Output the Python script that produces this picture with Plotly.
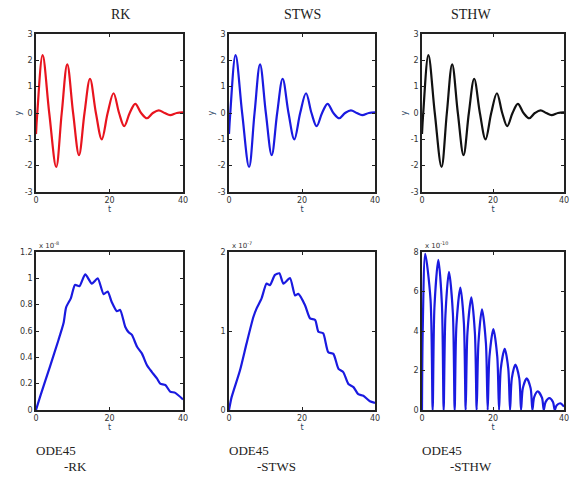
import plotly.graph_objects as go

# ---------------- data ----------------
titles = ["RK", "STWS", "STHW"]
bottom_labels = ["-RK", "-STWS", "-STHW"]
exponents = ["x 10<sup>-8</sup>", "x 10<sup>-7</sup>", "x 10<sup>-10</sup>"]

# top row: solution y(t) (same for all three methods)
t_sol = [0, 0.35, 1.8, 3.6, 5.5, 7.0, 8.5, 10.1, 11.7, 13.2, 14.7, 16.3, 17.9,
         19.5, 21.1, 22.6, 24.0, 25.5, 27.0, 28.6, 30.2, 31.8, 33.4, 35.0,
         36.5, 38.3, 40]
y_sol = [-0.8, 0.0, 2.2, 0.0, -2.05, 0.0, 1.85, 0.0, -1.6, 0.0, 1.3, 0.0, -1.0,
         0.0, 0.75, 0.0, -0.5, 0.0, 0.35, 0.0, -0.2, 0.0, 0.1, 0.0,
         -0.08, 0.0, 0.02]

# bottom row: errors ODE45 - method
t_err_rk = [0, 1.1, 3.8, 6.1, 7.5, 8.2, 9.5, 10.6, 11.8, 13.4, 15.2, 16.8, 18.4,
            19.5, 20.6, 22.0, 22.9, 24.3, 25.2, 26.1, 27.5, 28.8, 30.2, 31.5,
            32.9, 33.8, 35.2, 36.5, 37.9, 40]
err_rk = [0, 0.1, 0.33, 0.53, 0.66, 0.78, 0.85, 0.95, 0.94, 1.03, 0.96, 1.0, 0.88,
          0.9, 0.82, 0.75, 0.76, 0.63, 0.59, 0.57, 0.48, 0.43, 0.34, 0.29,
          0.24, 0.2, 0.19, 0.14, 0.13, 0.08]

t_err_stws = [0, 0.7, 3.0, 4.8, 6.7, 7.6, 8.9, 10.3, 11.2, 12.6, 13.8, 14.9, 16.7,
              18.1, 19.0, 20.8, 22.2, 23.6, 24.5, 25.8, 27.2, 28.6, 30.0, 31.3,
              32.7, 34.1, 35.4, 36.8, 38.6, 40]
err_stws = [0, 0.16, 0.5, 0.84, 1.18, 1.29, 1.41, 1.6, 1.58, 1.71, 1.73, 1.6, 1.67,
            1.45, 1.47, 1.33, 1.16, 1.14, 0.99, 0.97, 0.73, 0.71, 0.52, 0.48,
            0.33, 0.29, 0.2, 0.18, 0.11, 0.09]

t_err_sthw = [0, 0.2, 0.9, 2.4, 3.0, 3.5, 4.6, 5.6, 6.1, 6.6, 7.6, 8.7, 9.2, 9.7,
              10.8, 11.8, 12.3, 12.8, 13.9, 14.9, 15.4, 15.9, 16.9, 18.0, 18.5,
              19.0, 20.1, 21.2, 21.7, 22.2, 23.3, 24.3, 24.8, 25.3, 26.3, 27.4,
              27.9, 28.4, 29.5, 30.6, 31.1, 31.6, 32.6, 33.8, 34.3, 34.8, 35.9,
              36.9, 37.4, 37.9, 39.0, 40]
err_sthw = [0, 4.0, 7.9, 5.6, 0.0, 5.2, 7.6, 5.4, 0.0, 4.8, 7.0, 4.9, 0.0, 4.3,
            6.2, 4.4, 0.0, 3.9, 5.7, 3.9, 0.0, 3.4, 5.1, 3.4, 0.0, 2.7,
            4.1, 2.7, 0.0, 2.1, 3.1, 2.1, 0.0, 1.6, 2.3, 1.6, 0.0, 1.1, 1.6, 1.1,
            0.0, 0.65, 0.94, 0.62, 0.0, 0.4, 0.6, 0.4, 0.0, 0.23, 0.34, 0.17]

sol_colors = ["#e8141e", "#1a1ae0", "#111111"]
err_color = "#1a1ae0"

# ---------------- figure ----------------
W, H = 570, 479
xd = [(36 / W, 183 / W), (229 / W, 375 / W), (422 / W, 564 / W)]
yd_top = (1 - 192 / H, 1 - 34 / H)
yd_bot = (1 - 410 / H, 1 - 252 / H)

fig = go.Figure()
tick_font = dict(family="DejaVu Sans", size=8, color="#333333")
serif = "Liberation Serif"

def ax_common():
    return dict(showline=True, linecolor="#222222", linewidth=1.5, mirror="allticks",
                ticks="inside", ticklen=3, tickcolor="#222222", showgrid=False,
                zeroline=False, tickfont=tick_font, automargin=False)

err_t = [t_err_rk, t_err_stws, t_err_sthw]
err_v = [err_rk, err_stws, err_sthw]
err_ranges = [[0, 1.2], [0, 2], [0, 8]]
err_ticks = [[0, 0.2, 0.4, 0.6, 0.8, 1, 1.2], [0, 1, 2], [0, 2, 4, 6, 8]]

for i in range(3):
    n_top = i + 1
    n_bot = i + 4
    xa_t = "x" if n_top == 1 else f"x{n_top}"
    ya_t = "y" if n_top == 1 else f"y{n_top}"
    xa_b, ya_b = f"x{n_bot}", f"y{n_bot}"

    fig.add_trace(go.Scatter(x=t_sol, y=y_sol, mode="lines",
                             line=dict(color=sol_colors[i], width=2.2, shape="spline", smoothing=1.0),
                             xaxis=xa_t, yaxis=ya_t, showlegend=False))
    fig.add_trace(go.Scatter(x=err_t[i], y=err_v[i], mode="lines",
                             line=dict(color=err_color, width=2.2, shape="spline",
                                       smoothing=0.6 if i < 2 else 0.8),
                             xaxis=xa_b, yaxis=ya_b, showlegend=False))

    xkey_t = "xaxis" if n_top == 1 else f"xaxis{n_top}"
    ykey_t = "yaxis" if n_top == 1 else f"yaxis{n_top}"
    fig.update_layout({
        xkey_t: dict(domain=list(xd[i]), range=[0, 40], tickvals=[0, 20, 40],
                     anchor=ya_t, title=dict(text="t", font=dict(size=8, family="DejaVu Sans"), standoff=2),
                     **ax_common()),
        ykey_t: dict(domain=list(yd_top), range=[-3, 3], tickvals=[-3, -2, -1, 0, 1, 2, 3],
                     ticktext=["-3", "-2", "-1", "0", "1", "2", "3"],
                     anchor=xa_t, title=dict(text="y", font=dict(size=8, family="DejaVu Sans"), standoff=2),
                     **ax_common()),
        f"xaxis{n_bot}": dict(domain=list(xd[i]), range=[0, 40], tickvals=[0, 20, 40],
                              anchor=ya_b, title=dict(text="t", font=dict(size=8, family="DejaVu Sans"), standoff=2),
                              **ax_common()),
        f"yaxis{n_bot}": dict(domain=list(yd_bot), range=err_ranges[i], tickvals=err_ticks[i],
                              anchor=xa_b, **ax_common()),
    })

    cx = (xd[i][0] + xd[i][1]) / 2
    fig.add_annotation(text=titles[i], x=cx, y=1 - 15 / H, xref="paper", yref="paper",
                       yanchor="middle", showarrow=False,
                       font=dict(family=serif, size=14, color="#222222"))
    fig.add_annotation(text=exponents[i], x=xd[i][0] + 1 / W, y=1 - 245 / H, xref="paper", yref="paper",
                       xanchor="left", yanchor="middle", showarrow=False,
                       font=dict(family="DejaVu Sans", size=7, color="#333333"))
    fig.add_annotation(text="ODE45", x=xd[i][0] - 2 / W, y=1 - 450 / H, xref="paper", yref="paper",
                       xanchor="left", yanchor="middle", showarrow=False,
                       font=dict(family=serif, size=13, color="#222222"))
    fig.add_annotation(text=bottom_labels[i], x=xd[i][0] + 26 / W, y=1 - 466 / H, xref="paper", yref="paper",
                       xanchor="left", yanchor="middle", showarrow=False,
                       font=dict(family=serif, size=13, color="#222222"))

fig.update_layout(width=W, height=H, margin=dict(l=0, r=0, t=0, b=0),
                  paper_bgcolor="white", plot_bgcolor="white", showlegend=False)

fig.write_html("out.html", config={"displayModeBar": False},
               post_script="document.body.style.margin='0';")
